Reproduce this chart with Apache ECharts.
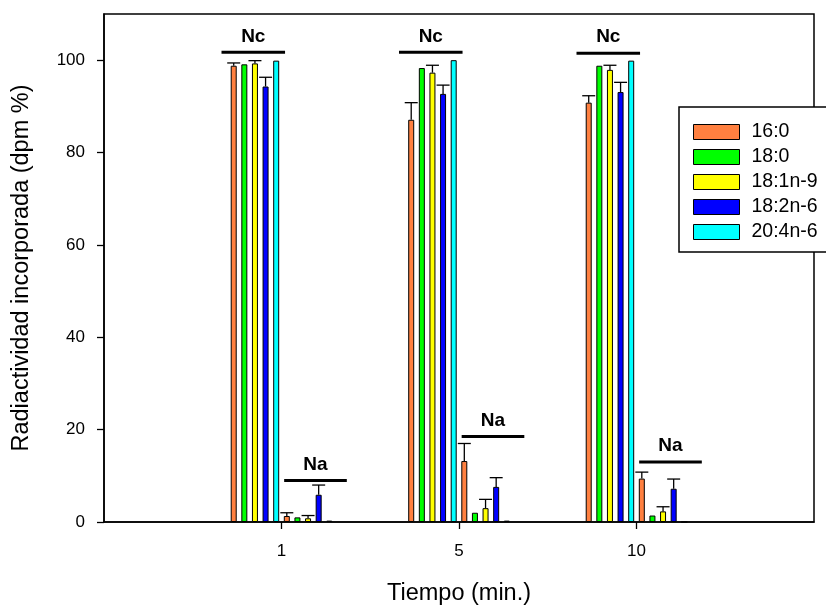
<!DOCTYPE html>
<html>
<head>
<meta charset="utf-8">
<script src="https://cdn.jsdelivr.net/npm/echarts@6/dist/echarts.min.js"></script>
<style>
html,body{margin:0;padding:0;background:#fff;}
#chart{width:826px;height:608px;}
</style>
</head>
<body>
<div id="chart"></div>
<script>
// ---- data ----
const times = ['1', '5', '10'];
const acids = ['16:0', '18:0', '18:1n-9', '18:2n-6', '20:4n-6'];

// Nc fraction (mean) per time
const nc16_0 = [98.8, 87.1, 90.8];
const nc18_0 = [99.1, 98.3, 98.8];
const nc18_1 = [99.3, 97.3, 97.9];
const nc18_2 = [94.3, 92.7, 93.1];
const nc20_4 = [99.9, 100.0, 99.9];
// Nc error (upper)
const ncErr16_0 = [0.6, 3.7, 1.5];
const ncErr18_0 = [0, 0, 0];
const ncErr18_1 = [0.6, 1.6, 1.0];
const ncErr18_2 = [2.0, 1.9, 2.1];
const ncErr20_4 = [0, 0, 0];

// Na fraction (mean) per time
const na16_0 = [1.3, 13.2, 9.4];
const na18_0 = [1.0, 2.0, 1.4];
const na18_1 = [0.8, 3.0, 2.3];
const na18_2 = [5.9, 7.6, 7.2];
const na20_4 = [0.3, 0.3, 0];
// Na error (upper)
const naErr16_0 = [0.7, 3.8, 1.4];
const naErr18_0 = [0, 0, 0];
const naErr18_1 = [0.6, 1.9, 1.0];
const naErr18_2 = [2.1, 2.0, 2.1];
const naErr20_4 = [0, 0, 0];

// annotation levels (Nc / Na bracket heights)
const ncLevel = [101.7, 101.7, 101.5];
const naLevel = [9.0, 18.5, 13.0];
const yTicks = [0, 20, 40, 60, 80, 100];

// ---- style ----
const colors = ['#FF8040', '#00FF00', '#FFFF00', '#0000FF', '#00FFFF'];
const FONT = 'Liberation Sans, Arial, Helvetica, sans-serif';
const BAR_W = 6, BAR_GAP = 0.77;
const SLOT = BAR_W * (1 + BAR_GAP);
const CAP = 13;

const ncVals = [nc16_0, nc18_0, nc18_1, nc18_2, nc20_4];
const ncErrs = [ncErr16_0, ncErr18_0, ncErr18_1, ncErr18_2, ncErr20_4];
const naVals = [na16_0, na18_0, na18_1, na18_2, na20_4];
const naErrs = [naErr16_0, naErr18_0, naErr18_1, naErr18_2, naErr20_4];

const axisCats = [''].concat(times).concat(['']);
const pad = arr => ['-'].concat(arr).concat(['-']);

const series = [];
const allVals = ncVals.concat(naVals);
const allErrs = ncErrs.concat(naErrs);
allVals.forEach((vals, s) => {
  const k = s % 5;
  series.push({
    type: 'bar',
    name: acids[k],
    data: pad(vals),
    barWidth: BAR_W,
    barGap: (BAR_GAP * 100) + '%',
    itemStyle: { color: colors[k], borderColor: '#000', borderWidth: 1 },
    emphasis: { disabled: true },
    animation: false
  });
});

const errData = [];
allVals.forEach((vals, s) => {
  vals.forEach((v, t) => {
    const e = allErrs[s][t];
    if (e > 0) errData.push([t + 1, v, e, s]);
  });
});
series.push({
  type: 'custom',
  name: 'err',
  z: 3,
  silent: true,
  animation: false,
  data: errData,
  encode: { x: 0, y: 1 },
  renderItem: (params, api) => {
    const x = api.value(0), v = api.value(1), e = api.value(2), s = api.value(3);
    const base = api.coord([x, v]);
    const top = api.coord([x, v + e]);
    const cx = base[0] + (s - 4.5) * SLOT;
    const st = { stroke: '#000', lineWidth: 1.3 };
    return { type: 'group', children: [
      { type: 'line', shape: { x1: cx, y1: base[1], x2: cx, y2: top[1] }, style: st },
      { type: 'line', shape: { x1: cx - CAP / 2, y1: top[1], x2: cx + CAP / 2, y2: top[1] }, style: st }
    ]};
  }
});

const annData = [];
ncLevel.forEach((l, t) => annData.push([t + 1, l, 0]));
naLevel.forEach((l, t) => annData.push([t + 1, l, 1]));
const annLabels = ['Nc', 'Na'];
series.push({
  type: 'custom',
  name: 'ann',
  z: 4,
  silent: true,
  animation: false,
  data: annData,
  encode: { x: 0, y: 1 },
  renderItem: (params, api) => {
    const x = api.value(0), lvl = api.value(1), typ = api.value(2);
    const band = api.size([1, 0])[0];
    const c = api.coord([x, lvl]);
    const fr = typ === 0 ? [-0.338, 0.020] : [0.015, 0.368];
    const x1 = c[0] + fr[0] * band, x2 = c[0] + fr[1] * band;
    return { type: 'group', children: [
      { type: 'line', shape: { x1: x1, y1: c[1], x2: x2, y2: c[1] }, style: { stroke: '#000', lineWidth: 3 } },
      { type: 'text', style: { x: (x1 + x2) / 2, y: c[1] - 16, text: annLabels[typ], fill: '#000',
          font: 'bold 19px ' + FONT, align: 'center', verticalAlign: 'middle' } }
    ]};
  }
});

const chart = echarts.init(document.getElementById('chart'), null, { renderer: 'canvas' });
chart.setOption({
  animation: false,
  backgroundColor: '#fff',
  grid: { left: 104, right: 12, top: 14, bottom: 86, outerBoundsMode: 'none', containLabel: false,
          show: true, borderColor: '#000', borderWidth: 1.5, backgroundColor: 'transparent' },
  legend: {
    data: acids,
    orient: 'vertical',
    left: 679, top: 107,
    padding: [15, 40, 10, 14],
    itemWidth: 46, itemHeight: 15, itemGap: 5,
    icon: 'rect',
    borderColor: '#000', borderWidth: 1.5,
    backgroundColor: '#fff',
    selectedMode: false,
    itemStyle: { borderColor: '#000', borderWidth: 1 },
    textStyle: { fontFamily: FONT, fontSize: 19.5, color: '#000', lineHeight: 20, padding: [0, 0, 0, 7] }
  },
  xAxis: {
    type: 'category',
    data: axisCats,
    boundaryGap: false,
    name: 'Tiempo (min.)',
    nameLocation: 'middle',
    nameGap: 60,
    nameTextStyle: { fontFamily: FONT, fontSize: 23.5, color: '#000', verticalAlign: 'top' },
    axisLine: { lineStyle: { color: '#000', width: 1.5 } },
    axisTick: { show: true, length: 7, inside: false, interval: (i, v) => v !== '', lineStyle: { color: '#000', width: 1.3 } },
    axisLabel: { fontFamily: FONT, fontSize: 17, color: '#000', margin: 21, interval: 0 },
    splitLine: { show: false }
  },
  yAxis: {
    type: 'value',
    min: 0, max: 110, interval: 20,
    name: 'Radiactividad incorporada (dpm %)',
    nameLocation: 'middle',
    nameGap: 70,
    nameTextStyle: { fontFamily: FONT, fontSize: 23.5, color: '#000' },
    axisLine: { show: true, lineStyle: { color: '#000', width: 1.5 } },
    axisTick: { show: true, length: 7, inside: false, customValues: yTicks, lineStyle: { color: '#000', width: 1.3 } },
    axisLabel: { fontFamily: FONT, fontSize: 17, color: '#000', margin: 19, customValues: yTicks },
    splitLine: { show: false }
  },
  series: series
});
</script>
</body>
</html>
